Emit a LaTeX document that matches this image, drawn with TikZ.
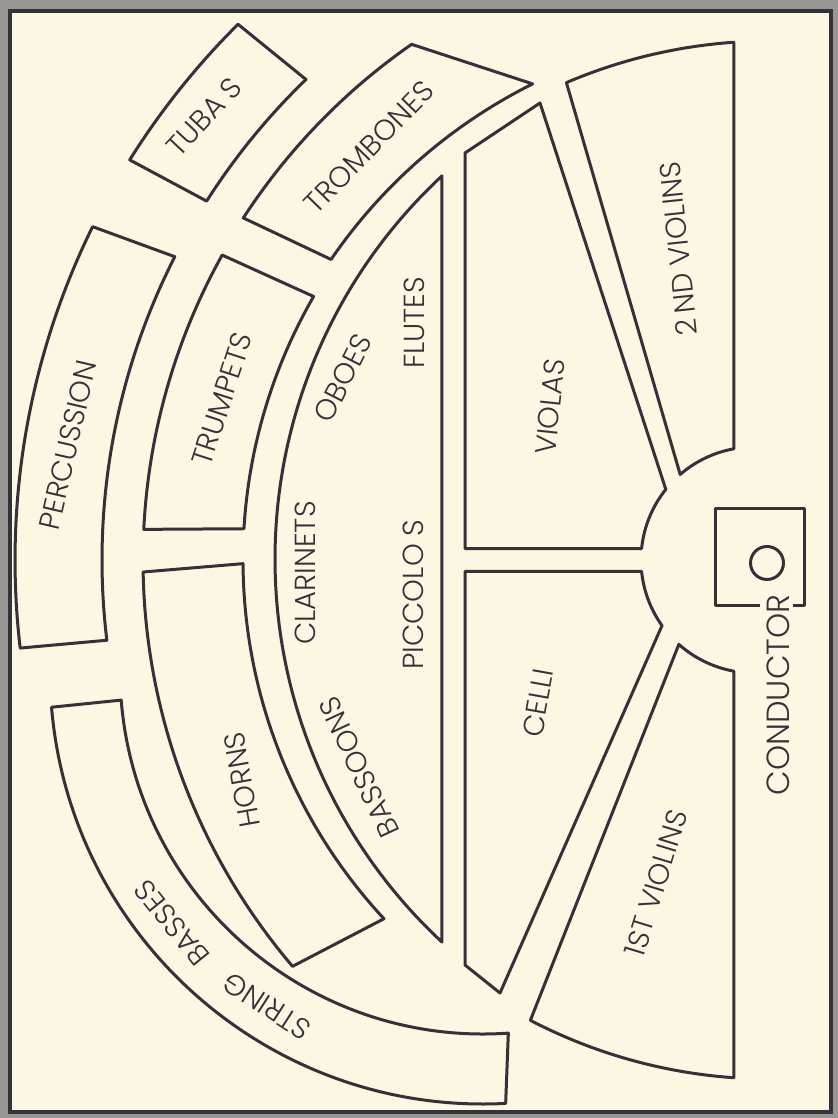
\documentclass[tikz,border=0pt]{standalone}
\usepackage{fontspec}
\setmainfont{Poppins}[UprightFont=* Light]
\usetikzlibrary{calc}
\definecolor{inkc}{RGB}{55,48,56}
\definecolor{creamc}{RGB}{250,247,226}
\definecolor{grayc}{RGB}{152,150,146}
\begin{document}
\begin{tikzpicture}[x=0.5pt,y=0.5pt,
  ink/.style={draw=inkc, line width=1.5pt, line join=round},
  lab/.style={font=\fontsize{14.5}{15}\selectfont, text=inkc, inner sep=0pt}]
\fill[grayc] (0,0) rectangle (838,1118);
\useasboundingbox (0,0) rectangle (838,1118);
\draw[fill=creamc, draw=inkc, line width=2.2pt] (10,6) rectangle (831,1107);
\coordinate (O) at (770,558);
\coordinate (H) at (754,558);
\coordinate (W) at (798,559);
\coordinate (B) at (483,447);
% outer ring
\draw[ink] ($(O)+(148:755)$) arc[start angle=148,end angle=134.8,radius=755] -- ($(O)+(134:668)$) arc[start angle=134,end angle=147.5,radius=668] -- cycle;
\draw[ink] ($(O)+(153.8:755)$) arc[start angle=153.8,end angle=186.7,radius=755] -- ($(O)+(186.9:668)$) arc[start angle=186.9,end angle=153,radius=668] -- cycle;
% middle ring
\draw[ink] ($(O)+(147:628)$) arc[start angle=147,end angle=124.8,radius=628] -- ($(O)+(116.5:532)$) arc[start angle=116.5,end angle=145.6,radius=532] -- cycle;
\draw[ink] ($(O)+(150.9:627)$) arc[start angle=150.9,end angle=177.2,radius=627] -- ($(O)+(176.6:527)$) arc[start angle=176.6,end angle=150,radius=527] -- cycle;
\draw[ink] ($(O)+(181.1:627)$) arc[start angle=181.1,end angle=220.4,radius=627] -- ($(O)+(222.9:527)$) arc[start angle=222.9,end angle=180.4,radius=527] -- cycle;
% string basses
\draw[ink] ($(B)+(184.8:433)$) arc[start angle=184.8,end angle=273,radius=433] -- ($(B)+(274:363)$) arc[start angle=274,end angle=184.6,radius=363] -- cycle;
% woodwinds
\draw[ink] ($(W)+(132.9:523)$) arc[start angle=132.9,end angle=227.1,radius=523] -- cycle;
% strings
\draw[ink] (465,965) -- (540,1015) -- ($(H)+(141.3:113)$) arc[start angle=141.3,end angle=174.2,radius=113] -- (465,569.4) -- cycle;
\draw[ink] (465,546.6) -- ($(H)+(185.8:113)$) arc[start angle=185.8,end angle=215.5,radius=113] -- (500,125) -- (465,153) -- cycle;
\draw[ink] ($(O)+(113.1:519)$) arc[start angle=113.1,end angle=94,radius=519] -- ($(H)+(100.3:113)$) arc[start angle=100.3,end angle=130.8,radius=113] -- cycle;
\draw[ink] ($(H)+(228.3:113)$) arc[start angle=228.3,end angle=259.7,radius=113] -- ($(O)+(266:519)$) arc[start angle=266,end angle=242.5,radius=519] -- cycle;
% conductor
\draw[ink] (760,512) -- (715,512) -- (715,609) -- (804,609) -- (804,512) -- (793,512);
\draw[ink] (767,555) circle[radius=16.5];
% labels
\node[lab,rotate=47] (tubas) at (204,1001) {TUBA\kern0.25em S};
\node[lab,rotate=45.7] (trombones) at (369,971) {TROMBONES};
\node[lab,rotate=77] (percussion) at (68,673) {PERCUSSION};
\node[lab,rotate=72] (trumpets) at (222,719) {TRUMPETS};
\node[lab,rotate=63] (oboes) at (343,740) {OBOES};
\node[lab,rotate=90] (flutes) at (414,795) {FLUTES};
\node[lab,rotate=90] (clarinets) at (305,545) {CLARINETS};
\node[lab,rotate=90] (piccolos) at (413,523) {PICCOLO\kern0.25em S};
\node[lab,rotate=115] (bassoons) at (359,351) {BASSOONS};
\node[lab,rotate=100] (horns) at (242,338) {HORNS};
\node[lab,rotate=147] (string) at (267,112) {STRING};
\node[lab,rotate=129] (basses) at (172,195) {BASSES};
\node[lab,rotate=84] (violas) at (550,711) {VIOLAS};
\node[lab,rotate=96] (violins2) at (678,869) {2\kern0.2em ND VIOLINS};
\node[lab,rotate=80] (celli) at (538,415) {CELLI};
\node[lab,rotate=73] (violins1) at (656,235) {1ST VIOLINS};
\node[lab,rotate=90,font=\fontsize{16}{17}\selectfont] (conductor) at (778,423) {CONDUCTOR};
\end{tikzpicture}
\end{document}
